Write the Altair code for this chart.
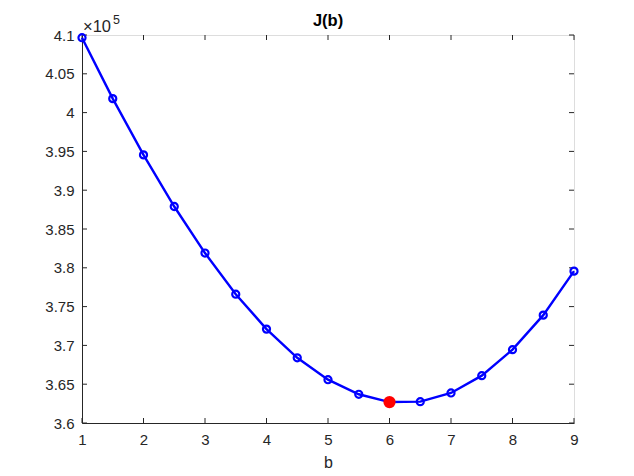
import altair as alt
import pandas as pd

b_vals = [1, 1.5, 2, 2.5, 3, 3.5, 4, 4.5, 5, 5.5, 6, 6.5, 7, 7.5, 8, 8.5, 9]
j_vals = [409650, 401800, 394550, 387900, 381900, 376600, 372100, 368400,
          365580, 363700, 362700, 362750, 363870, 366100, 369450, 373900, 379570]
best_b = [6]
best_j = [362700]
x_ticks = [1, 2, 3, 4, 5, 6, 7, 8, 9]
y_ticks = [360000, 365000, 370000, 375000, 380000, 385000, 390000, 395000,
           400000, 405000, 410000]

W, H = 492, 388
FONT = "Liberation Sans"
INK = "#262626"

df = pd.DataFrame({"b": b_vals, "J": j_vals})
dbest = pd.DataFrame({"b": best_b, "J": best_j})
dxt = pd.DataFrame({"b": x_ticks})
dyt = pd.DataFrame({"J": y_ticks})

xscale = alt.Scale(domain=[1, 9], nice=False, zero=False)
yscale = alt.Scale(domain=[360000, 410000], nice=False, zero=False)

xaxis = alt.Axis(values=x_ticks, ticks=False, grid=False, domainColor=INK,
                 labelColor=INK, labelFont=FONT, labelFontSize=15, labelPadding=9,
                 labelExpr="format(datum.value, 'd')", labelOverlap=False,
                 title="b", titleFont=FONT, titleFontSize=16, titleFontWeight="normal",
                 titleColor=INK, titlePadding=7, labelFlush=False)
yaxis = alt.Axis(values=y_ticks, ticks=False, grid=False, domainColor=INK,
                 labelColor=INK, labelFont=FONT, labelFontSize=15, labelPadding=8,
                 labelExpr="format(datum.value/100000, '.3~g')", title=None,
                 labelOverlap=False, labelFlush=False)


def X():
    return alt.X("b:Q", scale=xscale, axis=xaxis)


def Y():
    return alt.Y("J:Q", scale=yscale, axis=yaxis)


line = alt.Chart(df).mark_line(color="#0000ff", strokeWidth=2.4).encode(x=X(), y=Y())
pts = alt.Chart(df).mark_point(shape="circle", filled=False, color="#0000ff",
                               strokeWidth=2.2, size=50, opacity=1).encode(x=X(), y=Y())
best = alt.Chart(dbest).mark_point(shape="circle", filled=True, color="#ff0000",
                                   size=150, opacity=1).encode(x=X(), y=Y())

tk = dict(color=INK, strokeWidth=1)
xt_bot = alt.Chart(dxt).mark_rule(**tk).encode(
    x=X(), y=alt.value(H), y2=alt.value(H - 5))
xt_top = alt.Chart(dxt).mark_rule(**tk).encode(
    x=X(), y=alt.value(0), y2=alt.value(5))
yt_left = alt.Chart(dyt).mark_rule(**tk).encode(
    y=Y(), x=alt.value(0), x2=alt.value(5))
yt_right = alt.Chart(dyt).mark_rule(**tk).encode(
    y=Y(), x=alt.value(W), x2=alt.value(W - 5))

exp_base = alt.Chart(pd.DataFrame({"t": ["×10"]})).mark_text(
    align="left", baseline="alphabetic", font=FONT, fontSize=16.5, color=INK).encode(
    text="t:N", x=alt.value(1), y=alt.value(-3))
exp_sup = alt.Chart(pd.DataFrame({"t": ["5"]})).mark_text(
    align="left", baseline="alphabetic", font=FONT, fontSize=12.5, color=INK).encode(
    text="t:N", x=alt.value(31), y=alt.value(-11))
title = alt.Chart(pd.DataFrame({"t": ["J(b)"]})).mark_text(
    align="center", baseline="alphabetic", font=FONT, fontSize=16.5,
    fontWeight="bold", color="#000000").encode(
    text="t:N", x=alt.value(W / 2), y=alt.value(-9))

chart = alt.layer(
    xt_bot, xt_top, yt_left, yt_right, line, pts, best, exp_base, exp_sup, title
).properties(
    width=W, height=H,
    autosize=alt.AutoSizeParams(type="none"),
    padding={"left": 74, "top": 27, "right": 52, "bottom": 53},
).configure_view(stroke=INK, strokeWidth=1).configure(background="white")

chart.save("out.html", embed_options={"renderer": "svg", "actions": False})
